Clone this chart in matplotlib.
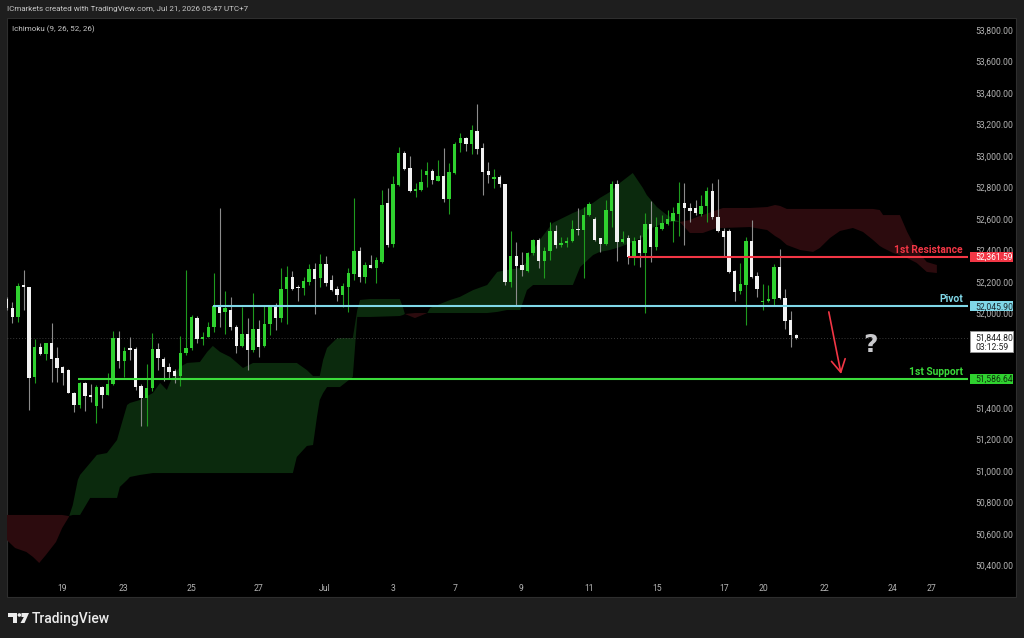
import matplotlib
matplotlib.use('Agg')
import matplotlib.pyplot as plt
import matplotlib.transforms as mtrans
from matplotlib.patches import Rectangle, Polygon, Circle
import numpy as np

plt.rcParams['font.family'] = ['Roboto', 'DejaVu Sans']

# ---------------- data ----------------
opens = [52090, 52033, 51980, 52181, 52166, 51595, 51785, 51743, 51811, 51715,
         51658, 51641, 51493, 51419, 51561, 51480, 51413, 51531, 51485, 51552,
         51842, 51701, 51779, 51772, 51540, 51461, 51529, 51775, 51711, 51658,
         51635, 51603, 51747, 51779, 51974, 51836, 51853, 51916, 52043, 52012,
         52022, 51916, 51794, 51870, 51768, 51899, 51796, 51931, 52043, 51971,
         52153, 52230, 52168, 52160, 52202, 52283, 52223, 52316, 52213, 52158,
         52117, 52170, 52251, 52397, 52234, 52308, 52287, 52329, 52700, 52441,
         52816, 53017, 52922, 52780, 52784, 52879, 52907, 52843, 52875, 52729,
         52892, 53085, 53114, 53076, 53159, 53049, 52907, 52856, 52869, 52820,
         52202, 52365, 52308, 52270, 52382, 52467, 52335, 52397, 52522, 52435,
         52445, 52460, 52539, 52530, 52625, 52598, 52477, 52441, 52653, 52820,
         52456, 52477, 52357, 52467, 52382, 52568, 52424, 52539, 52568, 52589,
         52632, 52699, 52672, 52672, 52630, 52682, 52778, 52615, 52526, 52526,
         52270, 52143, 52181, 52462, 52238, 52073, 52079, 52094, 52293, 52096,
         51959, 51866]
highs = [52107, 52075, 52196, 52276, 52166, 51836, 51811, 51811, 51942, 51785,
         51667, 51646, 51504, 51567, 51567, 51552, 51546, 51540, 51624, 51889,
         51889, 51785, 51853, 51785, 51552, 51679, 51878, 51811, 51726, 51684,
         51646, 51857, 52276, 51990, 51986, 51885, 51944, 52255, 52668, 52143,
         52107, 51927, 52039, 51969, 52128, 51959, 52054, 52054, 52069, 52287,
         52302, 52270, 52181, 52234, 52312, 52323, 52378, 52367, 52242, 52175,
         52192, 52287, 52736, 52424, 52325, 52371, 52361, 52784, 52795, 52873,
         53059, 53032, 53002, 52826, 52915, 52964, 52917, 52975, 53049, 52953,
         53087, 53144, 53119, 53197, 53330, 53080, 52962, 52915, 52879, 52820,
         52524, 52456, 52388, 52393, 52471, 52477, 52424, 52583, 52562, 52488,
         52488, 52594, 52672, 52674, 52706, 52611, 52477, 52721, 52841, 52848,
         52524, 52498, 52484, 52498, 52640, 52716, 52615, 52625, 52657, 52674,
         52837, 52826, 52699, 52721, 52752, 52805, 52826, 52854, 52541, 52534,
         52276, 52318, 52488, 52594, 52266, 52185, 52181, 52312, 52410, 52156,
         52018, 51870]
lows = [52022, 51938, 51948, 52022, 51387, 51557, 51737, 51705, 51567, 51567,
        51546, 51493, 51377, 51398, 51383, 51440, 51303, 51402, 51483, 51546,
        51652, 51599, 51705, 51514, 51288, 51288, 51510, 51641, 51574, 51588,
        51561, 51540, 51736, 51768, 51815, 51800, 51849, 51885, 51912, 51868,
        51895, 51747, 51789, 51641, 51758, 51726, 51789, 51864, 51895, 51948,
        51931, 52149, 52081, 52117, 52181, 51997, 52166, 52177, 52145, 52081,
        52043, 52012, 52213, 52202, 52192, 52287, 52192, 52319, 52424, 52424,
        52810, 52911, 52774, 52742, 52780, 52805, 52820, 52839, 52710, 52632,
        52886, 53028, 53034, 53013, 53013, 52752, 52826, 52799, 52801, 52181,
        52170, 52054, 52238, 52266, 52371, 52287, 52223, 52340, 52414, 52424,
        52420, 52454, 52498, 52227, 52619, 52460, 52393, 52435, 52547, 52335,
        52450, 52314, 52308, 52297, 52001, 52329, 52403, 52530, 52562, 52456,
        52492, 52435, 52583, 52625, 52619, 52583, 52598, 52520, 52361, 52259,
        52081, 52124, 51927, 52227, 52103, 52022, 52071, 52048, 52092, 51899,
        51785, 51838]
closes = [52033, 51980, 52175, 52170, 51588, 51785, 51743, 51811, 51709, 51656,
          51624, 51493, 51419, 51557, 51476, 51472, 51531, 51483, 51552, 51842,
          51701, 51762, 51768, 51535, 51461, 51529, 51775, 51715, 51658, 51631,
          51603, 51747, 51783, 51980, 51836, 51853, 51916, 52048, 52005, 52033,
          51912, 51794, 51870, 51768, 51899, 51785, 51933, 52043, 51971, 52156,
          52230, 52158, 52160, 52206, 52283, 52221, 52316, 52196, 52149, 52117,
          52175, 52255, 52397, 52230, 52308, 52287, 52340, 52689, 52435, 52820,
          53017, 52917, 52778, 52790, 52833, 52907, 52848, 52875, 52729, 52896,
          53078, 53112, 53078, 53165, 53042, 52901, 52879, 52869, 52820, 52202,
          52365, 52304, 52276, 52386, 52467, 52335, 52397, 52526, 52435, 52450,
          52462, 52537, 52530, 52625, 52693, 52467, 52441, 52657, 52820, 52456,
          52473, 52361, 52462, 52382, 52568, 52424, 52547, 52572, 52602, 52636,
          52699, 52668, 52651, 52636, 52682, 52778, 52615, 52526, 52488, 52266,
          52139, 52185, 52462, 52234, 52156, 52079, 52094, 52293, 52096, 51954,
          51863, 51844.80]

# Ichimoku cloud edges (bar position, Senkou span A, Senkou span B)
cloud_x = [0, 1.5, 3.5, 4.7, 5.8, 7.0, 8.8, 9.9, 11.1, 11.8, 12.7, 13.1, 14.9, 16.1,
           17.9, 19.7, 20.2, 21.5, 22.0, 23.8, 26.1, 27.4, 28.6, 29.5, 30.9, 32.2,
           34.5, 35.8, 36.8, 38.1, 39.9, 42.2, 44.0, 51.1, 51.8, 53.6, 54.7, 55.4,
           55.9, 56.5, 57.2, 59.0, 59.5, 61.8, 62.6, 63.1, 64.9, 70.2, 70.8, 71.1,
           72.9, 75.1, 75.6, 79.2, 80.9, 83.3, 85.8, 87.6, 89.3, 91.7, 92.9, 94.0,
           95.2, 97.5, 101.1, 102.4, 104.7, 105.9, 107.7, 109.5, 111.8, 113.6, 114.3,
           116.1, 117.9, 120.2, 122.0, 123.3, 124.3, 126.8, 127.9, 132.7, 135.8,
           137.2, 138.1, 139.3, 141.7, 144.0, 145.2, 147.0, 148.8, 151.1, 152.9,
           154.7, 155.9, 156.5, 158.3, 159.5, 160.8, 162.5, 164.3, 166.1]
span_a = [50562, 50511, 50486, 50454, 50416, 50467, 50549, 50638, 50708, 50784, 50943,
          50975, 51051, 51102, 51114, 51197, 51260, 51419, 51432, 51451, 51495, 51559,
          51514, 51591, 51660, 51686, 51692, 51756, 51794, 51756, 51724, 51654, 51686,
          51686, 51686, 51641, 51603, 51603, 51603, 51705, 51781, 51844, 51844, 51844,
          52022, 52086, 52092, 52092, 52035, 51997, 51971, 52003, 52035, 52086, 52105,
          52149, 52181, 52264, 52276, 52289, 52327, 52403, 52467, 52575, 52638, 52657,
          52702, 52733, 52771, 52829, 52892, 52797, 52752, 52676, 52625, 52581, 52511,
          52511, 52511, 52543, 52543, 52549, 52530, 52492, 52473, 52435, 52403, 52391,
          52416, 52479, 52524, 52543, 52518, 52467, 52429, 52416, 52384, 52371, 52352,
          52321, 52264, 52257]
span_b = [50721, 50721, 50721, 50721, 50721, 50721, 50721, 50721, 50714, 50721, 50721,
          50721, 50829, 50829, 50829, 50829, 50899, 50943, 50962, 50975, 50987, 50987,
          50987, 50987, 50987, 50987, 50987, 50987, 50987, 50987, 50987, 50987, 50987,
          50987, 51089, 51159, 51165, 51343, 51451, 51495, 51533, 51533, 51533, 51597,
          51978, 51978, 51978, 51984, 51991, 51997, 52003, 52003, 52003, 52003, 52003,
          52003, 52003, 52010, 52022, 52022, 52149, 52181, 52181, 52181, 52181, 52295,
          52371, 52391, 52403, 52422, 52454, 52486, 52530, 52556, 52581, 52581, 52594,
          52613, 52625, 52657, 52670, 52670, 52676, 52689, 52683, 52664, 52664, 52664,
          52664, 52664, 52664, 52664, 52664, 52664, 52657, 52625, 52625, 52625, 52518,
          52403, 52327, 52308]

resistance = 52361.59
pivot = 52045.90
support = 51586.64
resistance_start, pivot_start, support_start = 111.0, 36.8, 12.7
last_price = 51844.80
countdown = "03:12:59"

arrow_from = (146.8, 52010)
arrow_to = (149.0, 51616)
question_at = (154.2, 51800)

date_pos = [9.9, 20.8, 32.9, 44.9, 56.8, 69.0, 80.1, 91.8, 104.0, 116.1, 128.1,
            135.1, 146.1, 158.1, 165.1]
date_labels = ['19', '23', '25', '27', 'Jul', '3', '7', '9', '11', '15', '17',
               '20', '22', '24', '27']
price_ticks = [50400, 50600, 50800, 51000, 51200, 51400, 52000, 52200, 52400,
               52600, 52800, 53000, 53200, 53400, 53600, 53800]

# ---------------- figure ----------------
W, H = 1024, 638
fig = plt.figure(figsize=(W / 100, H / 100), dpi=100, facecolor='#1e1e1e')


def fx(px):
    return px / W


def fy(py):
    return 1 - py / H


pix = mtrans.Affine2D().scale(1 / W, -1 / H).translate(0, 1) + fig.transFigure

fig.add_artist(Rectangle((7, 18), 1009, 579, transform=pix, facecolor='#000000',
                         edgecolor='#2e2e2e', lw=0.8, zorder=0))

ax = fig.add_axes([fx(7), fy(575), fx(968) - fx(7), fy(18) - fy(575)])
ax.set_facecolor('none')
ax.set_xlim(0.05, 171.66)
ax.set_ylim(50339.7, 53876.2)
for s in ax.spines.values():
    s.set_visible(False)

ppx = (53876.2 - 50339.7) / 557.0  # price units per pixel

GREEN = '#2fd12f'
GREEN_WICK = '#1e9a1e'
WHITE = '#f2f2f2'
WHITE_WICK = '#8c8c8c'

# cloud
cx = np.array(cloud_x)
sa = np.array(span_a, dtype=float)
sb = np.array(span_b, dtype=float)
ax.fill_between(cx, sa, sb, where=sa >= sb, interpolate=True, color='#0b2a0d', lw=0, zorder=1)
ax.fill_between(cx, sa, sb, where=sa < sb, interpolate=True, color='#2c0b0e', lw=0, zorder=1)

# current price dotted line
ax.axhline(last_price, color='#4d4d4d', lw=0.6, ls=(0, (1, 2.5)), zorder=1.2)

# candles
o = np.array(opens, dtype=float)
h = np.array(highs, dtype=float)
l = np.array(lows, dtype=float)
c = np.array(closes, dtype=float)
idx = np.arange(len(o))
up = c >= o
lo = np.minimum(o, c)
bh = np.maximum(np.abs(c - o), 1.2 * ppx)
ax.vlines(idx[up], l[up], h[up], color=GREEN_WICK, lw=0.8, zorder=3)
ax.vlines(idx[~up], l[~up], h[~up], color=WHITE_WICK, lw=0.8, zorder=3)
ax.bar(idx[up], bh[up], bottom=lo[up], width=0.6, color=GREEN, lw=0, zorder=3.5)
ax.bar(idx[~up], bh[~up], bottom=lo[~up], width=0.6, color=WHITE, lw=0, zorder=3.5)

# horizontal levels
xr = ax.get_xlim()[1]
ax.hlines(resistance, resistance_start, xr, color='#f23645', lw=1.5, zorder=4)
ax.hlines(pivot, pivot_start, xr, color='#80d8e8', lw=1.5, zorder=4)
ax.hlines(support, support_start, xr, color='#3bdc3b', lw=1.5, zorder=4)

tr = mtrans.blended_transform_factory(fig.transFigure, ax.transData)
for val, name, col in [(resistance, '1st Resistance', '#f23645'),
                       (pivot, 'Pivot', '#80d8e8'),
                       (support, '1st Support', '#3bdc3b')]:
    ax.text(fx(963), val + 4 * ppx, name, transform=tr, ha='right', va='baseline',
            color=col, fontsize=7.4, fontweight='bold', zorder=6, clip_on=False)

# arrow and question mark
ax.annotate('', xy=arrow_to, xytext=arrow_from,
            arrowprops=dict(arrowstyle='->,head_length=0.9,head_width=0.5',
                            color='#f23645', lw=1.2, shrinkA=0, shrinkB=0), zorder=5)
ax.text(question_at[0], question_at[1], '?', ha='center', va='center', color='#c9c9cc',
        fontsize=18, fontweight='bold', family='DejaVu Sans', zorder=5)

# axes ticks
ax.yaxis.tick_right()
ax.set_yticks(price_ticks)
ax.set_yticklabels([f"{v:,.2f}" for v in price_ticks])
ax.tick_params(axis='y', length=0, pad=5, labelsize=6.2, labelcolor='#b4b4b4')
ax.set_xticks(date_pos)
ax.set_xticklabels(date_labels)
ax.tick_params(axis='x', length=0, pad=6.5, labelsize=6.2, labelcolor='#b4b4b4')


# price boxes on axis
def price_box(val, text, fc, tc, ec='none', top=5.0, bot=5.0):
    ax.add_patch(Rectangle((fx(970), val - bot * ppx), fx(1013) - fx(970), (top + bot) * ppx,
                           transform=tr, facecolor=fc, edgecolor=ec, lw=0.6,
                           clip_on=False, zorder=7))
    ax.text(fx(975), val - 3 * ppx, text, transform=tr, ha='left', va='baseline',
            color=tc, fontsize=6.2, zorder=8, clip_on=False)


price_box(resistance, f"{resistance:,.2f}", '#f23645', '#ffffff')
price_box(pivot, f"{pivot:,.2f}", '#80d8e8', '#1c2a30')
price_box(support, f"{support:,.2f}", '#2fd12f', '#10300f')
price_box(last_price, f"{last_price:,.2f}", '#ffffff', '#222222', ec='#9a9a9a', top=6.5, bot=14.5)
ax.text(fx(975), last_price - 12 * ppx, countdown, transform=tr, ha='left', va='baseline',
        color='#222222', fontsize=6.2, zorder=8, clip_on=False)

# header texts
fig.text(fx(7), fy(9.5), 'ICmarkets created with TradingView.com, Jul 21, 2026 05:47 UTC+7',
         ha='left', va='center', color='#c8c8c8', fontsize=5.8)
fig.text(fx(12), fy(29), 'Ichimoku (9, 26, 52, 26)', ha='left', va='center',
         color='#c8c8c8', fontsize=5.8)

# TradingView logo
logo_col = '#ececec'
fig.add_artist(Polygon([(8, 613), (17, 613), (17, 623), (13, 623), (13, 617), (8, 617)],
                       closed=True, transform=pix, facecolor=logo_col, edgecolor='none'))
fig.add_artist(Circle((19.4, 615), 1.8, transform=pix, facecolor=logo_col, edgecolor='none'))
fig.add_artist(Polygon([(21.5, 613), (29, 613), (24.5, 623), (20.5, 623), (23.8, 617), (21.5, 617)],
                       closed=True, transform=pix, facecolor=logo_col, edgecolor='none'))
fig.text(fx(32), fy(623), 'TradingView', ha='left', va='baseline', color=logo_col,
         fontsize=10, fontweight='medium')

fig.savefig('out.png', dpi=100, facecolor=fig.get_facecolor())
